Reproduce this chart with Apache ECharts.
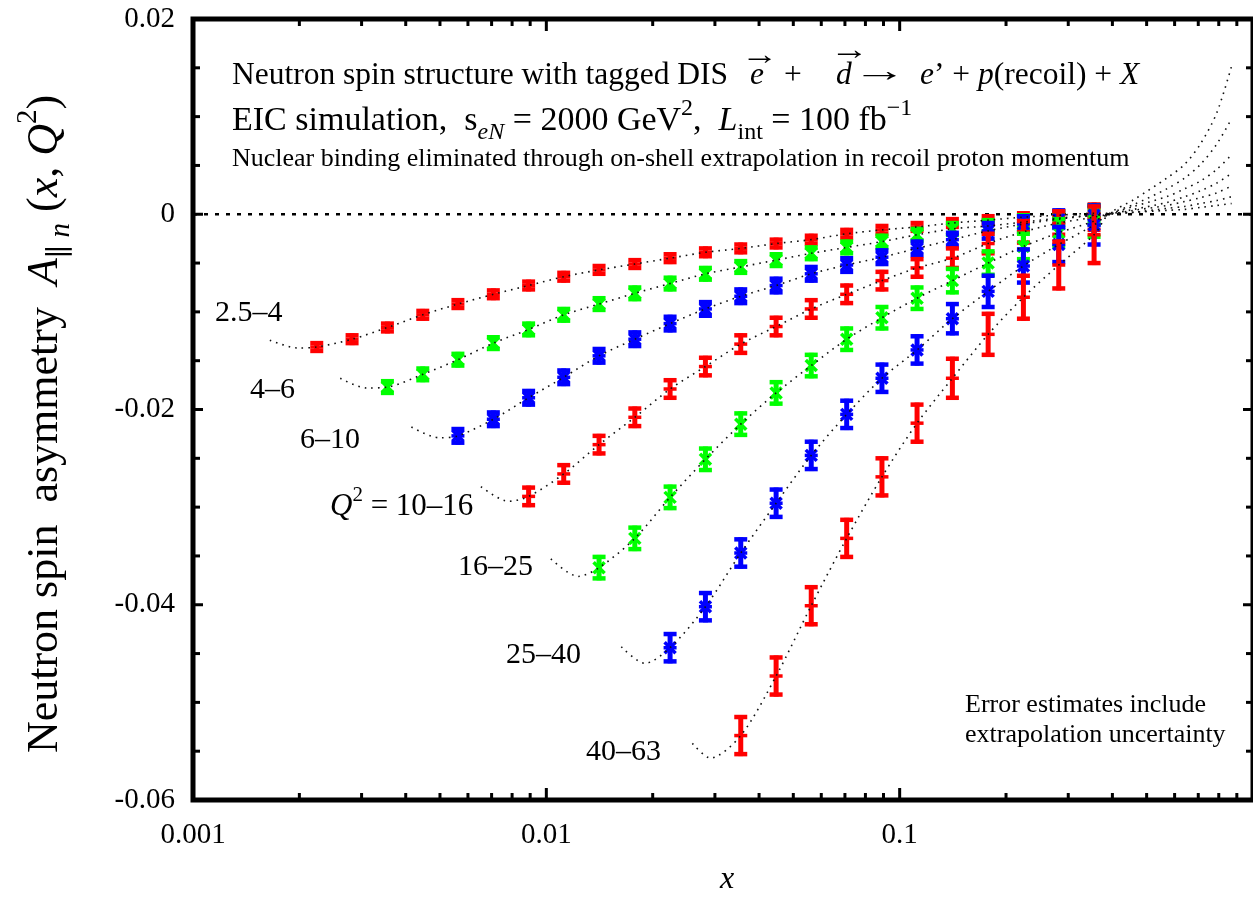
<!DOCTYPE html>
<html>
<head>
<meta charset="utf-8">
<script src="https://cdn.jsdelivr.net/npm/echarts@6/dist/echarts.min.js"></script>
<style>
html,body{margin:0;padding:0;background:#fff;}
#chart{width:1253px;height:898px;}
</style>
</head>
<body>
<div id="chart"></div>
<script>
// ---------- data ----------
const xBins = [0.00224, 0.00282, 0.00355, 0.00447, 0.00562, 0.00708, 0.00891, 0.0112, 0.0141, 0.0178,
               0.0224, 0.0282, 0.0355, 0.0447, 0.0562, 0.0708, 0.0891, 0.112, 0.141, 0.178, 0.224, 0.282, 0.355];

const q2Bins = ['2.5–4', '4–6', '6–10', '10–16', '16–25', '25–40', '40–63'];
const firstBin = [0, 2, 4, 6, 8, 10, 12];

const asym_2_5_4 = [-0.0136, -0.0128, -0.0116, -0.0103, -0.0092, -0.0082, -0.0073, -0.0064, -0.0057, -0.0051,
                    -0.0045, -0.0039, -0.0035, -0.0030, -0.0026, -0.0020, -0.0016, -0.0013, -0.0009, -0.0006,
                    -0.0003, -0.0001, 0.0001];
const asym_4_6 = [-0.0177, -0.0164, -0.0149, -0.0132, -0.0118, -0.0103, -0.0092, -0.0081, -0.0071, -0.0061,
                  -0.0054, -0.0047, -0.0040, -0.0034, -0.0028, -0.0021, -0.0015, -0.0012, -0.0008, -0.0004, -0.0001];
const asym_6_10 = [-0.0227, -0.0210, -0.0188, -0.0167, -0.0145, -0.0128, -0.0112, -0.0097, -0.0084, -0.0073,
                   -0.0061, -0.0052, -0.0044, -0.0035, -0.0026, -0.0017, -0.0010, -0.0005, -0.0001];
const asym_10_16 = [-0.0289, -0.0266, -0.0236, -0.0208, -0.0179, -0.0156, -0.0133, -0.0115, -0.0097, -0.0082,
                    -0.0068, -0.0055, -0.0045, -0.0030, -0.0018, -0.0009, -0.0003];
const asym_16_25 = [-0.0362, -0.0332, -0.0290, -0.0251, -0.0215, -0.0183, -0.0155, -0.0128, -0.0106, -0.0086,
                    -0.0068, -0.0050, -0.0033, -0.0019, -0.0007];
const asym_25_40 = [-0.0444, -0.0402, -0.0347, -0.0296, -0.0247, -0.0205, -0.0168, -0.0139, -0.0107, -0.0079,
                    -0.0053, -0.0031, -0.0011];
const asym_40_63 = [-0.0534, -0.0473, -0.0401, -0.0332, -0.0269, -0.0214, -0.0168, -0.0123, -0.0085, -0.0052, -0.0021];

const err_2_5_4 = [0.0004, 0.0004, 0.0004, 0.0004, 0.0004, 0.0004, 0.0004, 0.0004, 0.0004, 0.0004, 0.0004, 0.0004,
                   0.0004, 0.0004, 0.0004, 0.0004, 0.0004, 0.0004, 0.0004, 0.0004, 0.0004, 0.0004, 0.0005];
const err_4_6 = [0.0006, 0.0006, 0.0006, 0.0006, 0.0006, 0.0006, 0.0006, 0.0006, 0.0006, 0.0006, 0.0006,
                 0.0006, 0.0006, 0.0006, 0.0006, 0.0006, 0.0006, 0.0006, 0.0007, 0.0007, 0.0008];
const err_6_10 = [0.0007, 0.0007, 0.0007, 0.0007, 0.0007, 0.0007, 0.0007, 0.0007, 0.0007, 0.0007,
                  0.0007, 0.0007, 0.0007, 0.0007, 0.0007, 0.0008, 0.0008, 0.0009, 0.0010];
const err_10_16 = [0.0009, 0.0009, 0.0009, 0.0009, 0.0009, 0.0009, 0.0009, 0.0009, 0.0009, 0.0009,
                   0.0009, 0.0009, 0.0010, 0.0010, 0.0011, 0.0012, 0.0013];
const err_16_25 = [0.0011, 0.0011, 0.0011, 0.0011, 0.0011, 0.0011, 0.0011, 0.0011, 0.0011, 0.0011,
                   0.0012, 0.0012, 0.0013, 0.0014, 0.0016];
const err_25_40 = [0.0014, 0.0014, 0.0014, 0.0014, 0.0014, 0.0014, 0.0014, 0.0014, 0.0015, 0.0016,
                   0.0017, 0.0018, 0.0020];
const err_40_63 = [0.0019, 0.0019, 0.0019, 0.0019, 0.0019, 0.0019, 0.0020, 0.0021, 0.0022, 0.0024, 0.0029];

// theory curves: read points left of the data (start, minimum) and right of the data
const curveLeft = [
  [[0.00165, -0.0129], [0.00198, -0.0137]],
  [[0.00261, -0.0168], [0.00310, -0.0178]],
  [[0.00415, -0.0218], [0.00498, -0.0229]],
  [[0.00653, -0.0279], [0.00782, -0.0294]],
  [[0.0103, -0.0353], [0.0123, -0.0371]],
  [[0.0163, -0.0443], [0.0190, -0.0460]],
  [[0.0259, -0.0542], [0.0291, -0.0557]]
];
const tailX = [0.39, 0.46, 0.57, 0.64, 0.71, 0.79, 0.87];
const curveRight = [
  [0.0001, 0.0002, 0.0004, 0.0005, 0.0007, 0.0009, 0.0011],
  [0.0000, 0.0002, 0.0006, 0.0008, 0.0011, 0.0014, 0.0018],
  [0.0000, 0.0004, 0.0009, 0.0013, 0.0017, 0.0022, 0.0029],
  [0.0000, 0.0005, 0.0012, 0.0018, 0.0024, 0.0032, 0.0042],
  [0.0000, 0.0008, 0.0018, 0.0026, 0.0034, 0.0046, 0.0061],
  [0.0000, 0.0010, 0.0026, 0.0037, 0.0051, 0.0072, 0.0098],
  [0.0000, 0.0015, 0.0037, 0.0051, 0.0072, 0.0104, 0.0152]
];

const xTickLabels = ['0.001', '0.01', '0.1', ''];
const yTickLabels = ['-0.06', '-0.04', '-0.02', '0', '0.02'];
const xMajorTicks = [0.001, 0.01, 0.1];
const xMinorTicks = [0.002, 0.003, 0.004, 0.005, 0.006, 0.007, 0.008, 0.009,
                     0.02, 0.03, 0.04, 0.05, 0.06, 0.07, 0.08, 0.09,
                     0.2, 0.3, 0.4, 0.5, 0.6, 0.7, 0.8, 0.9];
const yMajorTicks = [-0.04, -0.02, 0];
const yMinorTicks = [-0.055, -0.05, -0.045, -0.035, -0.03, -0.025, -0.015, -0.01, -0.005, 0.005, 0.01, 0.015];

// ---------- styling ----------
const asymData = [asym_2_5_4, asym_4_6, asym_6_10, asym_10_16, asym_16_25, asym_25_40, asym_40_63];
const errData = [err_2_5_4, err_4_6, err_6_10, err_10_16, err_16_25, err_25_40, err_40_63];
const colors = ['#ff0000', '#00ff00', '#0000ff', '#ff0000', '#00ff00', '#0000ff', '#ff0000'];
const kinds = ['plus', 'cross', 'star', 'plus', 'cross', 'star', 'plus'];
const SERIF = "'Liberation Serif', 'DejaVu Serif', serif";

const chart = echarts.init(document.getElementById('chart'), null, {renderer: 'canvas'});

function errRender(color, kind) {
  return function (params, api) {
    const x = api.value(0), y = api.value(1), e = api.value(2);
    const c = api.coord([x, y]);
    const t = api.coord([x, y + e]);
    const b = api.coord([x, y - e]);
    const cw = 6.5;
    const vs = {stroke: color, lineWidth: 5};
    const cs = {stroke: color, lineWidth: 4.5};
    const ch = [
      {type: 'line', shape: {x1: c[0], y1: t[1] - 2, x2: c[0], y2: b[1] + 2}, style: vs},
      {type: 'line', shape: {x1: c[0] - cw, y1: t[1], x2: c[0] + cw, y2: t[1]}, style: cs},
      {type: 'line', shape: {x1: c[0] - cw, y1: b[1], x2: c[0] + cw, y2: b[1]}, style: cs}
    ];
    const ms = {stroke: color, lineWidth: 3.5};
    if (kind === 'plus' || kind === 'star') {
      ch.push({type: 'line', shape: {x1: c[0] - 6.5, y1: c[1], x2: c[0] + 6.5, y2: c[1]}, style: ms});
    }
    if (kind === 'cross' || kind === 'star') {
      ch.push({type: 'line', shape: {x1: c[0] - 5.5, y1: c[1] - 5.5, x2: c[0] + 5.5, y2: c[1] + 5.5}, style: ms});
      ch.push({type: 'line', shape: {x1: c[0] - 5.5, y1: c[1] + 5.5, x2: c[0] + 5.5, y2: c[1] - 5.5}, style: ms});
    }
    return {type: 'group', children: ch};
  };
}

const series = [];
// zero line
series.push({
  type: 'line', data: [[0.001, 0], [1, 0]], symbol: 'none', silent: true, z: 1,
  lineStyle: {color: '#000', width: 2.5, type: [4, 7]}
});
// error bars
asymData.forEach(function (vals, i) {
  series.push({
    type: 'custom', z: 3,
    renderItem: errRender(colors[i], kinds[i]),
    encode: {x: 0, y: 1},
    data: vals.map(function (v, k) { return [xBins[firstBin[i] + k], v, errData[i][k]]; })
  });
});
// theory curves
asymData.forEach(function (vals, i) {
  const pts = curveLeft[i]
    .concat(vals.map(function (v, k) { return [xBins[firstBin[i] + k], v]; }))
    .concat(tailX.map(function (x, k) { return [x, curveRight[i][k]]; }));
  series.push({
    type: 'line', data: pts, symbol: 'none', smooth: 0.3, silent: true, z: 4,
    lineStyle: {color: '#111', width: 1.6, type: [1.6, 5]}
  });
});
// frame ticks
const tickData = []
  .concat(xMajorTicks.map(function (v) { return [v, -0.06, 0, 1]; }))
  .concat(xMinorTicks.map(function (v) { return [v, -0.06, 0, 0]; }))
  .concat(yMajorTicks.map(function (v) { return [0.001, v, 1, 1]; }))
  .concat(yMinorTicks.map(function (v) { return [0.001, v, 1, 0]; }));
series.push({
  type: 'custom', z: 5, silent: true,
  encode: {x: 0, y: 1},
  data: tickData,
  renderItem: function (params, api) {
    const kind = api.value(2), major = api.value(3);
    const st = {stroke: '#000', lineWidth: 3};
    if (kind === 0) {
      const v = api.value(0);
      const b = api.coord([v, -0.06]), t = api.coord([v, 0.02]);
      const L = major ? 12 : 7;
      return {type: 'group', children: [
        {type: 'line', shape: {x1: b[0], y1: b[1], x2: b[0], y2: b[1] - L}, style: st},
        {type: 'line', shape: {x1: t[0], y1: t[1], x2: t[0], y2: t[1] + L}, style: st}
      ]};
    } else {
      const v = api.value(1);
      const l = api.coord([0.001, v]), r = api.coord([1, v]);
      const L = major ? 10 : 7;
      return {type: 'group', children: [
        {type: 'line', shape: {x1: l[0], y1: l[1], x2: l[0] + L, y2: l[1]}, style: st},
        {type: 'line', shape: {x1: r[0], y1: r[1], x2: r[0] - L, y2: r[1]}, style: st}
      ]};
    }
  }
});

// ---------- texts ----------
const F = SERIF;
function txt(x, y, text, size, italic, extra) {
  return Object.assign({
    type: 'text', x: x, y: y, z: 10, silent: true,
    style: {text: text, fontFamily: F, fontSize: size, fontStyle: italic ? 'italic' : 'normal',
            fill: '#000', align: 'left', verticalAlign: 'middle'}
  }, extra || {});
}
function rich(x, y, text, size, richStyles, extra) {
  const e = txt(x, y, text, size, false, extra);
  e.style.rich = richStyles;
  return e;
}
const xTitle = txt(727, 880, 'x', 32, true, {});
xTitle.style.align = 'center';
const graphics = [
  txt(232, 76, 'Neutron spin structure with tagged DIS', 31.5),
  txt(750, 76, 'e', 31.5, true),
  txt(741, 56, '→', 30, false, {scaleX: 1.25}),
  txt(784, 76, '+', 31.5),
  txt(836, 76, 'd', 31.5, true),
  txt(830, 51, '→', 30, false, {scaleX: 1.3}),
  txt(852, 73, '→', 32, false, {scaleX: 1.7}),
  rich(920, 76, '{i|e}{n|’ + }{i|p}{n|(recoil) + }{i|X}', 31.5, {
    n: {fontFamily: F, fontSize: 31.5}, i: {fontFamily: F, fontSize: 31.5, fontStyle: 'italic'}
  }),
  rich(232, 121, '{n|EIC simulation,  s}{si|eN}{n| = 2000 GeV}{sup|2}{n|,  }{i|L}{sub|int}{n| = 100 fb}{sup|−1}', 34, {
    n: {fontFamily: F, fontSize: 34, lineHeight: 48},
    i: {fontFamily: F, fontSize: 34, fontStyle: 'italic', lineHeight: 48},
    si: {fontFamily: F, fontSize: 24, fontStyle: 'italic', verticalAlign: 'bottom', lineHeight: 48},
    sub: {fontFamily: F, fontSize: 24, verticalAlign: 'bottom', lineHeight: 48},
    sup: {fontFamily: F, fontSize: 24, verticalAlign: 'top', lineHeight: 48}
  }),
  txt(232, 159, 'Nuclear binding eliminated through on-shell extrapolation in recoil proton momentum', 26),
  txt(965, 705, 'Error estimates include', 26),
  txt(965, 735, 'extrapolation uncertainty', 26),
  txt(215, 313, q2Bins[0], 30),
  txt(250, 390, q2Bins[1], 30),
  txt(300, 440, q2Bins[2], 30),
  rich(330, 507, '{i|Q}{sup|2}{n| = ' + q2Bins[3] + '}', 31, {
    n: {fontFamily: F, fontSize: 31, lineHeight: 44},
    i: {fontFamily: F, fontSize: 31, fontStyle: 'italic', lineHeight: 44},
    sup: {fontFamily: F, fontSize: 21, verticalAlign: 'top', lineHeight: 44}
  }),
  txt(458, 567, q2Bins[4], 30),
  txt(506, 655, q2Bins[5], 30),
  txt(586, 752, q2Bins[6], 30),
  xTitle,
  {
    type: 'text', x: 45, y: 424, rotation: Math.PI / 2, z: 10, silent: true,
    style: {
      text: '{n|Neutron spin  asymmetry  }{i|A}{sub|∥ n}{n| (}{i|x}{n|, }{i|Q}{sup|2}{n|)}',
      fontFamily: F, fontSize: 44, fill: '#000', align: 'center', verticalAlign: 'middle',
      rich: {
        n: {fontFamily: F, fontSize: 44, lineHeight: 62},
        i: {fontFamily: F, fontSize: 44, fontStyle: 'italic', lineHeight: 62},
        sub: {fontFamily: F, fontSize: 29, fontStyle: 'italic', verticalAlign: 'bottom', lineHeight: 62},
        sup: {fontFamily: F, fontSize: 29, verticalAlign: 'top', lineHeight: 62}
      }
    }
  }
];

const option = {
  animation: false,
  backgroundColor: '#fff',
  grid: {left: 193, top: 19, width: 1068, height: 781, show: true, borderColor: '#000', borderWidth: 5,
         backgroundColor: 'transparent'},
  xAxis: {
    type: 'log', logBase: 10, min: 0.001, max: 1,
    axisLine: {show: false}, axisTick: {show: false}, splitLine: {show: false}, minorTick: {show: false},
    axisLabel: {
      show: true, margin: 21, fontFamily: SERIF, fontSize: 29, color: '#000', showMaxLabel: false,
      formatter: function (v) { const i = Math.round(Math.log10(v)) + 3; return xTickLabels[i] || ''; }
    }
  },
  yAxis: {
    type: 'value', min: -0.06, max: 0.02, interval: 0.02,
    axisLine: {show: false}, axisTick: {show: false}, splitLine: {show: false},
    axisLabel: {
      show: true, margin: 18, fontFamily: SERIF, fontSize: 29, color: '#000',
      formatter: function (v) { const i = Math.round((v + 0.06) / 0.02); return yTickLabels[i] || ''; }
    }
  },
  series: series,
  graphic: graphics
};
chart.setOption(option);
</script>
</body>
</html>
